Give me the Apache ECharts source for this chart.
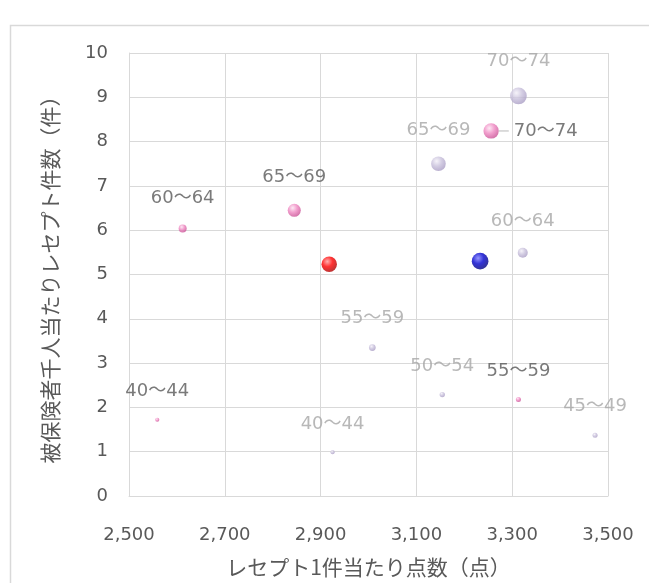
<!DOCTYPE html>
<html>
<head>
<meta charset="utf-8">
<script src="https://cdn.jsdelivr.net/npm/echarts@6/dist/echarts.min.js"></script>
<style>
html,body{margin:0;padding:0;background:#fff;}
#chart{width:649px;height:583px;}
</style>
</head>
<body>
<div id="chart"></div>
<script>
// ---- data ----
var xTicks = [2500, 2700, 2900, 3100, 3300, 3500];
var yTicks = [0, 1, 2, 3, 4, 5, 6, 7, 8, 9, 10];

var pinkAges = ['40～44', '55～59', '60～64', '65～69', '70～74'];
var pinkX    = [2559, 3313, 2612, 2845, 3256];
var pinkY    = [1.72, 2.18, 6.04, 6.45, 8.24];
var pinkSize = [6, 9, 23, 61, 84];

var lavAges = ['40～44', '45～49', '50～54', '55～59', '60～64', '65～69', '70～74'];
var lavX    = [2925, 3473, 3154, 3008, 3322, 3146, 3313];
var lavY    = [0.99, 1.37, 2.29, 3.35, 5.49, 7.50, 9.03];
var lavSize = [6, 9, 10, 16, 36, 77, 100];

var redX = [2918], redY = [5.23], redSize = [86];
var blueX = [3233], blueY = [5.30], blueSize = [100];

var xTitle = 'レセプト1件当たり点数（点）';
var yTitle = '被保険者千人当たりレセプト件数（件）';

// ---- helpers ----
function ball(c0, c1, c2) {
  return {
    type: 'radial', x: 0.38, y: 0.32, r: 0.75,
    colorStops: [{offset: 0, color: c0}, {offset: 0.45, color: c1}, {offset: 1, color: c2}]
  };
}
function sz(v) { return 16.7 * Math.sqrt(v[2] / 100); }
function build(xs, ys, ss, names) {
  return xs.map(function (x, i) { return names ? [x, ys[i], ss[i], names[i]] : [x, ys[i], ss[i]]; });
}
var FONT = '"Noto Sans CJK JP", "Noto Sans", sans-serif';
var NUMFONT = '"DejaVu Sans", "Noto Sans CJK JP", sans-serif';

var pinkData = build(pinkX, pinkY, pinkSize, pinkAges);
var special = pinkAges.indexOf('70～74');
pinkData = pinkData.map(function (d, i) {
  if (i === special) {
    return {
      value: d,
      label: {
        position: 'right', distance: 0,
        formatter: function (p) { return '{ln|}{sp|}' + p.value[3]; },
        rich: {
          ln: {width: 10, height: 1, backgroundColor: '#a6a6a6'},
          sp: {width: 5}
        }
      }
    };
  }
  return d;
});

var chart = echarts.init(document.getElementById('chart'));
chart.setOption({
  animation: false,
  backgroundColor: '#ffffff',
  graphic: [{
    type: 'rect', left: 8, top: 23, z: -10,
    shape: {width: 700, height: 700},
    style: {fill: 'none', stroke: '#d9d9d9', lineWidth: 1.5}
  }],
  grid: {left: 129, right: 41, top: 53, bottom: 81},
  xAxis: {
    type: 'value', min: xTicks[0], max: xTicks[xTicks.length - 1], interval: 200,
    name: xTitle, nameLocation: 'middle', nameGap: 61,
    nameTextStyle: {color: '#595959', fontSize: 21, fontFamily: FONT},
    axisLine: {show: true, lineStyle: {color: '#d9d9d9'}},
    axisTick: {show: false},
    splitLine: {show: true, lineStyle: {color: '#d9d9d9'}},
    axisLabel: {
      color: '#595959', fontSize: 18, fontFamily: NUMFONT, margin: 30,
      formatter: function (v) { return v.toLocaleString('en-US'); }
    }
  },
  yAxis: {
    type: 'value', min: yTicks[0], max: yTicks[yTicks.length - 1], interval: 1,
    name: yTitle, nameLocation: 'middle', nameGap: 68,
    nameTextStyle: {color: '#595959', fontSize: 21, fontFamily: FONT},
    axisLine: {show: true, lineStyle: {color: '#d9d9d9'}},
    axisTick: {show: false},
    splitLine: {show: true, lineStyle: {color: '#d9d9d9'}},
    axisLabel: {color: '#595959', fontSize: 18, fontFamily: NUMFONT, margin: 21}
  },
  series: [
    {
      name: 'lavender', type: 'scatter',
      data: build(lavX, lavY, lavSize, lavAges),
      symbolSize: sz,
      itemStyle: {color: ball('#f3f0f8', '#c9c1dc', '#a497c0')},
      label: {
        show: true, position: 'top', distance: 17,
        formatter: function (p) { return p.value[3]; },
        color: '#a6a6a6', fontSize: 18, fontFamily: NUMFONT
      },
      z: 2
    },
    {
      name: 'pink', type: 'scatter',
      data: pinkData,
      symbolSize: sz,
      itemStyle: {color: ball('#fde4f1', '#ef88c2', '#c4488e')},
      label: {
        show: true, position: 'top', distance: 17,
        formatter: function (p) { return p.value[3]; },
        color: '#595959', fontSize: 18, fontFamily: NUMFONT
      },
      z: 3
    },
    {
      name: 'red', type: 'scatter',
      data: build(redX, redY, redSize),
      symbolSize: sz,
      itemStyle: {color: ball('#ff9a9a', '#ff0000', '#a00000')},
      z: 4
    },
    {
      name: 'blue', type: 'scatter',
      data: build(blueX, blueY, blueSize),
      symbolSize: sz,
      itemStyle: {color: ball('#7a7aff', '#0000cc', '#000070')},
      z: 4
    }
  ]
});
</script>
</body>
</html>
